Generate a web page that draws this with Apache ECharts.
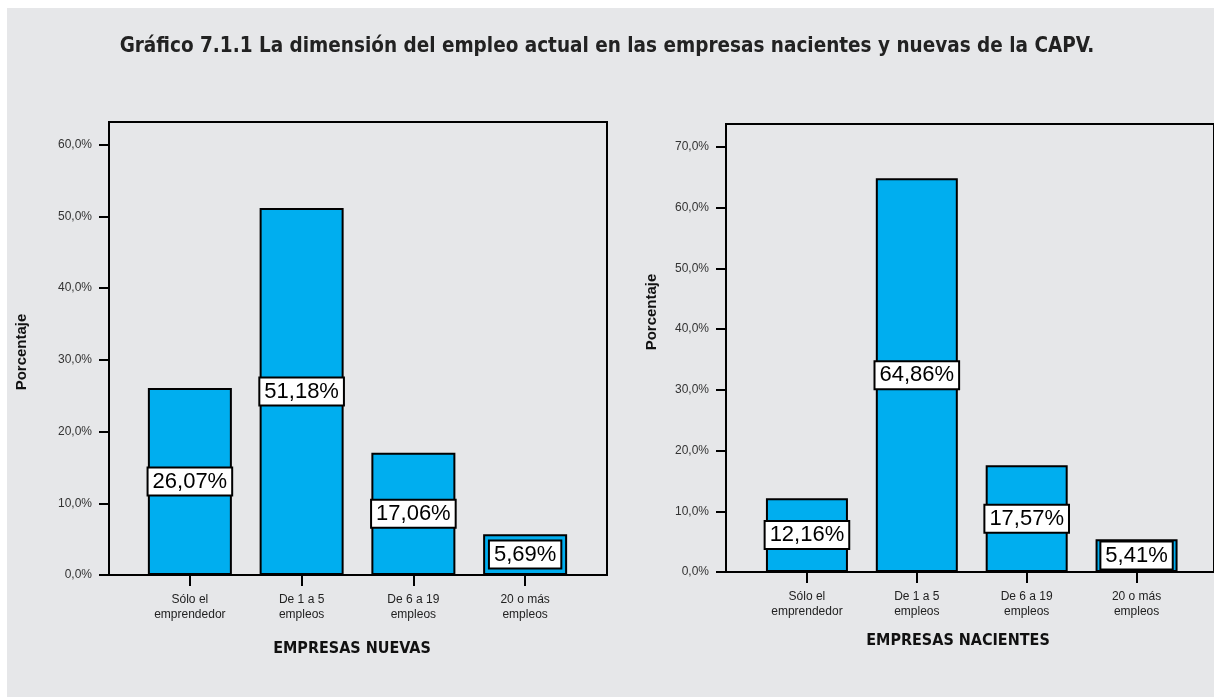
<!DOCTYPE html>
<html>
<head>
<meta charset="utf-8">
<script src="https://cdn.jsdelivr.net/npm/echarts@6/dist/echarts.min.js"></script>
<style>
html,body{margin:0;padding:0;background:#fff;}
#c{width:1214px;height:697px;}
</style>
</head>
<body>
<div id="c"></div>
<script>
const categories = ['Sólo el\nemprendedor', 'De 1 a 5\nempleos', 'De 6 a 19\nempleos', '20 o más\nempleos'];
const nuevasValues = [26.07, 51.18, 17.06, 5.69];
const nacientesValues = [12.16, 64.86, 17.57, 5.41];
const titleText = 'Gráfico 7.1.1 La dimensión del empleo actual en las empresas nacientes y nuevas de la CAPV.';
const leftAxisTitle = 'EMPRESAS NUEVAS';
const rightAxisTitle = 'EMPRESAS NACIENTES';
const yAxisTitle = 'Porcentaje';

const SANS = "'Liberation Sans', Arial, sans-serif";
const NARROW = "'Liberation Sans Narrow', 'DejaVu Sans Condensed', 'Liberation Sans', sans-serif";
const BLUE = '#00AEEF';
const BG = '#E6E7E9';

function pct1(v){ return v.toFixed(1).replace('.', ',') + '%'; }
function pct2(v){ return v.toFixed(2).replace('.', ',') + '%'; }

function frameX(idx){
  return {gridIndex: idx, type:'value', min:0, max:1,
    axisLine:{show:true, lineStyle:{color:'#000', width:2}},
    axisTick:{show:false}, axisLabel:{show:false}, splitLine:{show:false}};
}
function frameY(idx, max){
  return {gridIndex: idx, type:'value', min:0, max:max, interval:10,
    axisLine:{show:true, lineStyle:{color:'#000', width:2}},
    axisTick:{show:true, length:10, lineStyle:{color:'#000', width:2}},
    axisLabel:{formatter:pct1, fontSize:12, color:'#333', margin:17, fontFamily:SANS, showMaxLabel:false},
    splitLine:{show:false}};
}
function barX(idx){
  return {gridIndex: idx, type:'category', data:categories,
    axisLine:{show:false},
    axisTick:{show:true, alignWithLabel:true, length:11, lineStyle:{color:'#000', width:2}},
    axisLabel:{fontSize:12, lineHeight:15, color:'#222', margin:17, fontFamily:SANS, interval:0}};
}
function barY(idx, max){
  return {gridIndex: idx, type:'value', min:0, max:max, show:false, splitLine:{show:false}};
}
function barSeries(xi, data, w){
  return {type:'bar', xAxisIndex:xi, yAxisIndex:xi, data:data, barWidth:w,
    itemStyle:{color:BLUE, borderColor:'#000', borderWidth:2},
    label:{show:true, position:'inside', formatter:p=>pct2(p.value),
      fontSize:22, color:'#000', fontFamily:SANS, backgroundColor:'#fff',
      borderColor:'#000', borderWidth:2, padding:[2,4]}};
}

const LMAX = 63.16, RMAX = 73.8;

const chart = echarts.init(document.getElementById('c'), null, {renderer:'canvas'});
chart.setOption({
  backgroundColor:'#fff',
  animation:false,
  grid:[
    {left:109, top:122, width:498, height:453, show:true, borderColor:'#000', borderWidth:2, backgroundColor:'transparent'},
    {left:134, top:122, width:447, height:453},
    {left:726, top:124, width:492, height:448, show:true, borderColor:'#000', borderWidth:2, backgroundColor:'transparent'},
    {left:752, top:124, width:439.5, height:448}
  ],
  xAxis:[frameX(0), barX(1), frameX(2), barX(3)],
  yAxis:[frameY(0, LMAX), barY(1, LMAX), frameY(2, RMAX), barY(3, RMAX)],
  series:[barSeries(1, nuevasValues, 84), barSeries(3, nacientesValues, 82)],
  graphic:{elements:[
    {type:'rect', z:-100, shape:{x:7, y:8, width:1207, height:689}, style:{fill:BG}, silent:true},
    {type:'text', x:607, y:47, style:{text:titleText, font:'bold 20.5px ' + NARROW, fill:'#222', textAlign:'center', textVerticalAlign:'middle'}},
    {type:'text', x:352, y:649, style:{text:leftAxisTitle, font:'bold 16px ' + NARROW, fill:'#111', textAlign:'center', textVerticalAlign:'middle'}},
    {type:'text', x:958, y:641, style:{text:rightAxisTitle, font:'bold 16px ' + NARROW, fill:'#111', textAlign:'center', textVerticalAlign:'middle'}},
    {type:'text', x:22, y:352, rotation:Math.PI/2, style:{text:yAxisTitle, font:'bold 15px ' + SANS, fill:'#111', textAlign:'center', textVerticalAlign:'middle'}},
    {type:'text', x:652, y:312, rotation:Math.PI/2, style:{text:yAxisTitle, font:'bold 15px ' + SANS, fill:'#111', textAlign:'center', textVerticalAlign:'middle'}}
  ]}
});
</script>
</body>
</html>
